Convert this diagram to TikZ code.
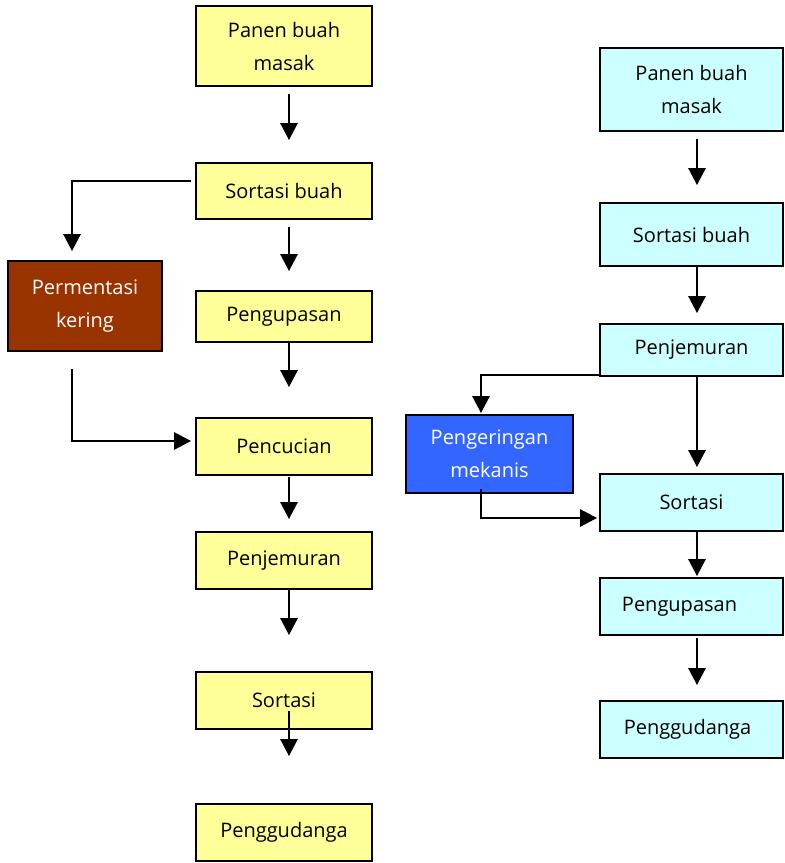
\documentclass[tikz,border=0pt]{standalone}
\usepackage{fontspec}
\setmainfont{Open Sans}
\usepackage{xcolor}
\usetikzlibrary{arrows.meta,calc}
\definecolor{Ink}      {HTML}{000000}
\definecolor{PaleYel}  {HTML}{FFFF99}
\definecolor{PaleCyan} {HTML}{CCFFFF}
\definecolor{Brick}    {HTML}{993300}
\definecolor{Royal}    {HTML}{3366FF}
\tikzset{
  box/.style={draw=Ink, line width=1.8pt, align=center, inner sep=0pt,
              font=\fontsize{20}{33}\selectfont},
  yelbox/.style={box, fill=PaleYel, minimum width=176pt},
  cyanbox/.style={box, fill=PaleCyan, minimum width=183pt},
  arr/.style={-{Triangle[length=17pt,width=17pt]}, line width=2.7pt, draw=Ink}
}
\begin{document}
\begin{tikzpicture}[x=1pt, y=-1pt]
  \useasboundingbox (0,0) rectangle (785,863);

  % ===== LEFT FLOW =====
  \node[yelbox, minimum height=80pt] (lpanen)  at (284,46)    {\raisebox{-4pt}{Panen buah}\\\raisebox{-4pt}{masak}};
  \node[yelbox, minimum height=56pt] (lsortasi) at (284,191)  {Sortasi buah};
  \node[yelbox, minimum height=51pt] (lkupas)  at (284,316.5) {Pengupasan};
  \node[yelbox, minimum height=57pt] (lcuci)   at (284,446.5) {Pencucian};
  \node[yelbox, minimum height=57pt] (ljemur)  at (284,560.5) {Penjemuran};
  \node[yelbox, minimum height=57pt] (lsort2)  at (284,700.5) {Sortasi};
  \node[yelbox, minimum height=57pt] (lgudang) at (284,832.5) {Penggudanga};
  % side branch
  \node[box, fill=Brick, text=white, minimum width=154pt, minimum height=90pt]
        (ferment) at (85,306) {Permentasi\\kering};

  \foreach \a/\b/\s/\e in {lpanen/lsortasi/7/22, lsortasi/lkupas/7/19,
      lkupas/lcuci/0/30, lcuci/ljemur/1/12, ljemur/lsort2/0/36, lsort2/lgudang/-19/47}{
    \draw[arr, shorten <=\s pt, shorten >=\e pt] ([xshift=5pt]\a.south) -- ([xshift=5pt]\b.north);
  }
  \draw[arr, shorten >=9pt] ([shift={(-4pt,10pt)}]lsortasi.west) -| ([xshift=-13pt]ferment.north);
  \draw[arr] ([shift={(-13pt,-17pt)}]ferment.south) |- ([shift={(-4pt,5.5pt)}]lcuci.west);

  % ===== RIGHT FLOW =====
  \node[cyanbox, minimum height=83pt] (rpanen)   at (691.5,89.5)  {\raisebox{-3pt}{Panen buah}\\\raisebox{-3pt}{masak}};
  \node[cyanbox, minimum height=63pt] (rsortasi) at (691.5,234.5) {Sortasi buah};
  \node[cyanbox, minimum height=52pt] (rjemur)   at (691.5,350)   {Penjemuran};
  \node[cyanbox, minimum height=57pt] (rsort2)   at (691.5,502.5) {Sortasi};
  \node[cyanbox, minimum height=57pt] (rkupas)   at (691.5,606.5) {Pengupasan\hspace*{24pt}};
  \node[cyanbox, minimum height=57pt] (rgudang)  at (691.5,729.5) {Penggudanga\hspace*{8pt}};
  % side branch
  \node[box, fill=Royal, text=white, minimum width=167pt, minimum height=78pt]
        (mekanis) at (489.5,454) {Pengeringan\\mekanis};

  \foreach \a/\b/\s/\e in {rpanen/rsortasi/7/17, rsortasi/rjemur/0/10,
      rjemur/rsort2/-2/6, rsort2/rkupas/0/1, rkupas/rgudang/2/15}{
    \draw[arr, shorten <=\s pt, shorten >=\e pt] ([xshift=5.5pt]\a.south) -- ([xshift=5.5pt]\b.north);
  }
  \draw[arr, shorten >=1pt] ([yshift=2pt]rjemur.south west) -| ([xshift=-8.5pt]mekanis.north);
  \draw[arr] ([shift={(-8.5pt,5pt)}]mekanis.south) |- ([shift={(-2pt,-15.5pt)}]rsort2.west);

\end{tikzpicture}
\end{document}
